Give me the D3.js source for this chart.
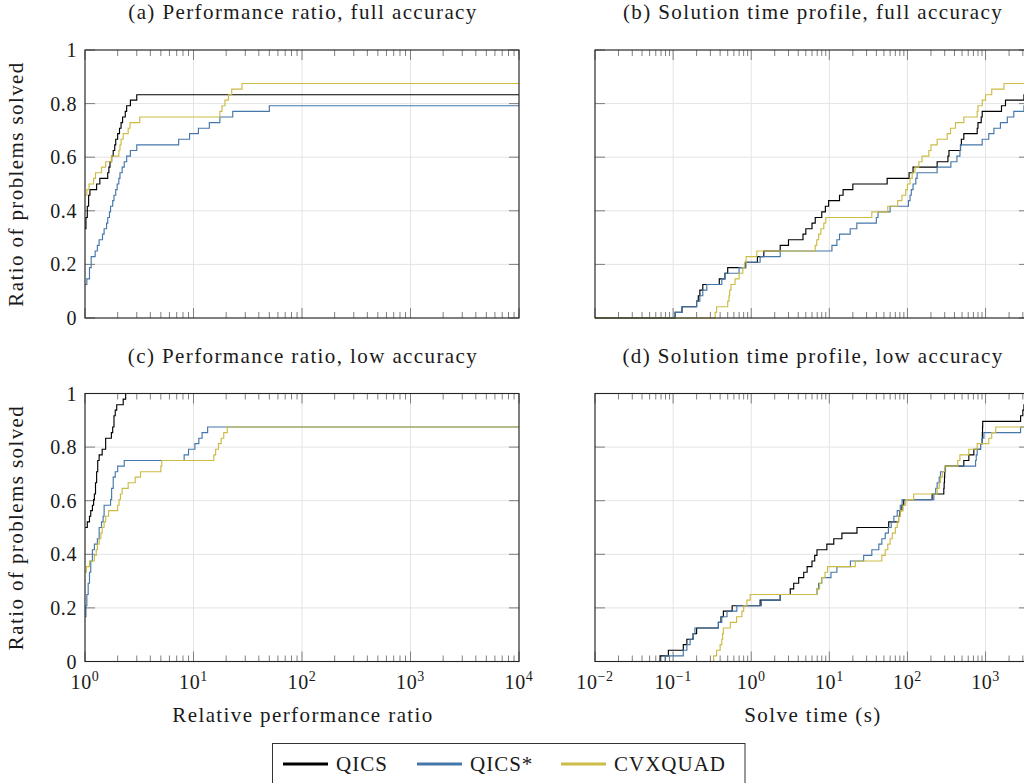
<html>
<head>
<meta charset="utf-8">
<script src="https://cdn.jsdelivr.net/npm/d3@7"></script>
<style>
body { margin: 0; background: #fff; }
text { font-family: "Liberation Serif", serif; fill: #1a1a1a; }
.big { font-size: 21px; letter-spacing: 1.4px; }
.tick { font-size: 20px; letter-spacing: 0.6px; }
.leg { font-size: 21px; letter-spacing: 1px; }
</style>
</head>
<body>
<svg id="chart" width="1024" height="783"></svg>
<script>
// solvers and colours
var solvers = ["QICS", "QICS*", "CVXQUAD"];
var solverColors = ["#000000", "#4477AA", "#CCBB44"];

var panelTitles = [
    "(a) Performance ratio, full accuracy",
    "(b) Solution time profile, full accuracy",
    "(c) Performance ratio, low accuracy",
    "(d) Solution time profile, low accuracy"
];
var yTicks = [0, 0.2, 0.4, 0.6, 0.8, 1];
var yTickLabels = ["0", "0.2", "0.4", "0.6", "0.8", "1"];
var ratioTicks = [1, 10, 100, 1000, 10000];
var timeTicks = [0.01, 0.1, 1, 10, 100, 1000];
var ratioDomain = [1, 10000];
var timeDomain = [0.01, 3600];

// [x, fraction solved] - step starts at x
var perfFullQICS = [[1,0.333],[1.02,0.375],[1.05,0.417],[1.08,0.458],[1.11,0.479],[1.28,0.5],[1.37,0.521],[1.62,0.542],[1.66,0.563],[1.7,0.583],[1.76,0.604],[1.82,0.625],[1.88,0.646],[1.92,0.667],[2.0,0.688],[2.08,0.708],[2.15,0.729],[2.22,0.75],[2.35,0.771],[2.42,0.792],[2.62,0.813],[3.0,0.833]];
var perfFullQICSstar = [[1,0.125],[1.04,0.146],[1.1,0.188],[1.14,0.229],[1.24,0.25],[1.3,0.271],[1.35,0.292],[1.45,0.313],[1.5,0.333],[1.58,0.354],[1.62,0.375],[1.68,0.396],[1.72,0.417],[1.8,0.438],[1.85,0.458],[1.92,0.479],[1.98,0.5],[2.05,0.521],[2.1,0.542],[2.2,0.563],[2.3,0.583],[2.42,0.604],[2.62,0.625],[3.0,0.646],[7.3,0.667],[9.2,0.688],[11.1,0.708],[14,0.729],[17.5,0.75],[23,0.771],[50,0.792]];
var perfFullCVXQUAD = [[1,0.458],[1.04,0.479],[1.09,0.5],[1.2,0.521],[1.25,0.542],[1.42,0.563],[1.55,0.583],[1.75,0.604],[2.05,0.625],[2.1,0.646],[2.15,0.667],[2.25,0.688],[2.5,0.708],[2.6,0.729],[3.2,0.75],[17.5,0.771],[18.3,0.792],[19.5,0.813],[21,0.833],[22.5,0.854],[28,0.875]];

var timeFullQICS = [[0.01,0],[0.106,0.021],[0.13,0.042],[0.2,0.063],[0.21,0.083],[0.22,0.104],[0.24,0.125],[0.39,0.146],[0.46,0.167],[0.5,0.188],[0.85,0.208],[1.2,0.229],[1.45,0.25],[2.35,0.271],[3.0,0.292],[4.6,0.313],[5.0,0.333],[6.0,0.354],[6.6,0.375],[8.0,0.396],[8.9,0.417],[9.8,0.438],[13.5,0.458],[15,0.479],[20,0.5],[55,0.521],[105,0.542],[118,0.563],[240,0.583],[330,0.604],[340,0.625],[478,0.646],[490,0.667],[527,0.688],[782,0.708],[800,0.729],[880,0.75],[906,0.771],[1600,0.792],[1800,0.813],[3100,0.833]];
var timeFullQICSstar = [[0.01,0],[0.106,0.021],[0.13,0.042],[0.2,0.063],[0.22,0.083],[0.24,0.104],[0.27,0.125],[0.42,0.146],[0.46,0.167],[0.7,0.188],[0.84,0.208],[1.3,0.229],[2.35,0.25],[10.8,0.271],[12.5,0.292],[13.5,0.313],[18.5,0.333],[22.5,0.354],[40,0.375],[42,0.396],[60,0.417],[103,0.438],[108,0.458],[112,0.479],[118,0.5],[128,0.521],[133,0.542],[240,0.563],[360,0.583],[430,0.604],[470,0.625],[478,0.646],[906,0.667],[1100,0.688],[1280,0.708],[1550,0.729],[1900,0.75],[2300,0.771],[3100,0.792]];
var timeFullCVXQUAD = [[0.01,0],[0.345,0.021],[0.36,0.042],[0.5,0.063],[0.52,0.083],[0.53,0.104],[0.55,0.125],[0.62,0.146],[0.7,0.167],[0.78,0.188],[0.82,0.208],[0.86,0.229],[1.18,0.25],[6.6,0.271],[6.9,0.292],[7.3,0.313],[7.8,0.333],[8.5,0.354],[9.0,0.375],[35,0.396],[56,0.417],[75,0.438],[85,0.458],[95,0.479],[100,0.5],[108,0.521],[115,0.542],[125,0.563],[140,0.583],[154,0.604],[188,0.625],[200,0.646],[240,0.667],[323,0.688],[356,0.708],[412,0.729],[527,0.75],[782,0.771],[800,0.792],[906,0.813],[1000,0.833],[1200,0.854],[1720,0.875]];

var perfLowQICS = [[1,0.5],[1.05,0.521],[1.1,0.542],[1.13,0.563],[1.17,0.583],[1.2,0.604],[1.22,0.625],[1.25,0.667],[1.28,0.708],[1.31,0.75],[1.35,0.771],[1.44,0.792],[1.55,0.833],[1.75,0.854],[1.8,0.875],[1.85,0.917],[1.9,0.938],[1.96,0.958],[2.25,0.979],[2.37,1.0]];
var perfLowQICSstar = [[1,0.167],[1.02,0.208],[1.04,0.25],[1.07,0.292],[1.1,0.333],[1.13,0.375],[1.17,0.417],[1.22,0.438],[1.3,0.458],[1.35,0.5],[1.42,0.521],[1.47,0.542],[1.5,0.583],[1.72,0.604],[1.76,0.646],[1.82,0.688],[1.9,0.708],[2.0,0.729],[2.3,0.75],[8.2,0.771],[9.0,0.792],[10.3,0.813],[11.2,0.833],[12,0.854],[13.5,0.875]];
var perfLowCVXQUAD = [[1,0.333],[1.03,0.354],[1.1,0.375],[1.22,0.396],[1.27,0.417],[1.3,0.438],[1.35,0.458],[1.4,0.479],[1.44,0.5],[1.5,0.521],[1.55,0.542],[1.65,0.563],[2.0,0.583],[2.06,0.604],[2.12,0.625],[2.2,0.646],[2.5,0.667],[2.9,0.688],[3.25,0.708],[5.0,0.729],[5.1,0.75],[15.4,0.771],[16,0.792],[17,0.813],[18,0.833],[19,0.854],[20.5,0.875]];

var timeLowQICS = [[0.01,0],[0.068,0.021],[0.087,0.042],[0.135,0.063],[0.15,0.083],[0.18,0.104],[0.2,0.125],[0.38,0.146],[0.41,0.167],[0.44,0.188],[0.57,0.208],[1.3,0.229],[2.35,0.25],[3.16,0.271],[3.5,0.292],[4.05,0.313],[4.7,0.333],[5.2,0.354],[6.0,0.375],[6.5,0.396],[6.95,0.417],[9.3,0.438],[11.4,0.458],[14.5,0.479],[22.6,0.5],[57.6,0.521],[77,0.542],[80,0.563],[85,0.583],[89.7,0.604],[207,0.625],[292,0.646],[295,0.667],[298,0.688],[300,0.708],[305,0.729],[527,0.75],[611,0.771],[708,0.792],[863,0.813],[906,0.833],[910,0.854],[915,0.875],[920,0.896],[2810,0.917],[3000,0.938],[3100,0.958],[3400,0.979]];
var timeLowQICSstar = [[0.01,0],[0.079,0.021],[0.135,0.042],[0.15,0.063],[0.165,0.083],[0.182,0.104],[0.19,0.125],[0.38,0.146],[0.42,0.167],[0.49,0.188],[0.655,0.208],[1.35,0.229],[2.35,0.25],[6.95,0.271],[7.3,0.292],[8.0,0.313],[10.5,0.333],[12.5,0.354],[18.6,0.375],[27.5,0.396],[35,0.417],[43,0.438],[47,0.458],[52,0.479],[57,0.5],[62,0.521],[67,0.542],[74,0.563],[81,0.583],[85.5,0.604],[218,0.625],[230,0.646],[240,0.667],[255,0.688],[265,0.708],[307,0.729],[745,0.75],[760,0.771],[782,0.792],[863,0.813],[906,0.833],[952,0.854],[2810,0.875]];
var timeLowCVXQUAD = [[0.01,0],[0.33,0.021],[0.36,0.042],[0.4,0.063],[0.42,0.083],[0.43,0.104],[0.44,0.125],[0.54,0.146],[0.65,0.167],[0.76,0.188],[0.8,0.208],[0.88,0.229],[0.97,0.25],[6.95,0.271],[7.5,0.292],[8.0,0.313],[8.8,0.333],[9.5,0.354],[21.5,0.375],[47,0.396],[52,0.417],[56,0.438],[60,0.458],[64,0.479],[70,0.5],[74,0.521],[77,0.542],[81,0.563],[88,0.583],[95,0.604],[120,0.625],[240,0.646],[255,0.667],[265,0.688],[280,0.708],[300,0.729],[440,0.75],[470,0.771],[611,0.792],[782,0.813],[1100,0.833],[1200,0.854],[1350,0.875]];

var svg = d3.select("#chart");

var panels = [
    {title: panelTitles[0], x0: 85,  y0: 50,    domain: ratioDomain, ticks: ratioTicks, series: [perfFullQICS, perfFullQICSstar, perfFullCVXQUAD], yLabels: true,  xLabels: false},
    {title: panelTitles[1], x0: 595, y0: 50,    domain: timeDomain,  ticks: timeTicks,  series: [timeFullQICS, timeFullQICSstar, timeFullCVXQUAD], yLabels: false, xLabels: false},
    {title: panelTitles[2], x0: 85,  y0: 393.5, domain: ratioDomain, ticks: ratioTicks, series: [perfLowQICS, perfLowQICSstar, perfLowCVXQUAD], yLabels: true,  xLabels: true, xTitle: "Relative performance ratio"},
    {title: panelTitles[3], x0: 595, y0: 393.5, domain: timeDomain,  ticks: timeTicks,  series: [timeLowQICS, timeLowQICSstar, timeLowCVXQUAD], yLabels: false, xLabels: true, xTitle: "Solve time (s)"}
];
var W = 434, H = 268;

panels.forEach(function (p, pi) {
    var g = svg.append("g").attr("transform", "translate(" + p.x0 + "," + p.y0 + ")");
    var x = d3.scaleLog().domain(p.domain).range([0, W]);
    var y = d3.scaleLinear().domain([0, 1]).range([H, 0]);

    // title
    g.append("text").attr("class", "big").attr("x", W / 2 + 1).attr("y", -31)
        .attr("text-anchor", "middle").text(p.title);

    // grid
    g.selectAll(".gy").data(yTicks).enter().append("line")
        .attr("x1", 0).attr("x2", W).attr("y1", d => y(d)).attr("y2", d => y(d))
        .attr("stroke", "#e4e4e4").attr("stroke-width", 1);
    g.selectAll(".gx").data(p.ticks).enter().append("line")
        .attr("x1", d => x(d)).attr("x2", d => x(d)).attr("y1", 0).attr("y2", H)
        .attr("stroke", "#e4e4e4").attr("stroke-width", 1);

    // minor log ticks, top and bottom, inward
    var minors = [];
    var lo = Math.floor(Math.log10(p.domain[0])), hi = Math.ceil(Math.log10(p.domain[1]));
    for (var e = lo; e < hi; e++) {
        for (var m = 2; m <= 9; m++) {
            var v = m * Math.pow(10, e);
            if (v > p.domain[0] && v < p.domain[1]) minors.push(v);
        }
    }
    var tickCol = "#7f7f7f";
    [[H, -6], [0, 6]].forEach(function (s) {
        g.selectAll(null).data(minors).enter().append("line")
            .attr("x1", d => x(d)).attr("x2", d => x(d))
            .attr("y1", s[0]).attr("y2", s[0] + s[1])
            .attr("stroke", tickCol).attr("stroke-width", 1);
    });
    [[H, -10], [0, 10]].forEach(function (s) {
        g.selectAll(null).data(p.ticks).enter().append("line")
            .attr("x1", d => x(d)).attr("x2", d => x(d))
            .attr("y1", s[0]).attr("y2", s[0] + s[1])
            .attr("stroke", tickCol).attr("stroke-width", 1);
    });
    [[0, 10], [W, -10]].forEach(function (s) {
        g.selectAll(null).data(yTicks).enter().append("line")
            .attr("x1", s[0]).attr("x2", s[0] + s[1])
            .attr("y1", d => y(d)).attr("y2", d => y(d))
            .attr("stroke", tickCol).attr("stroke-width", 1);
    });

    // step curves
    var clipId = "clip" + pi;
    g.append("clipPath").attr("id", clipId).append("rect")
        .attr("x", 0).attr("y", -1).attr("width", W).attr("height", H + 2);
    var line = d3.line().x(d => x(d[0])).y(d => y(d[1])).curve(d3.curveStepAfter);
    p.series.forEach(function (s, si) {
        var pts = s.concat([[p.domain[1], s[s.length - 1][1]]]);
        g.append("path").datum(pts)
            .attr("clip-path", "url(#" + clipId + ")")
            .attr("d", line).attr("fill", "none")
            .attr("stroke", solverColors[si]).attr("stroke-width", 1.15);
    });

    // frame
    g.append("rect").attr("x", 0).attr("y", 0).attr("width", W).attr("height", H)
        .attr("fill", "none").attr("stroke", "#222").attr("stroke-width", 1.1);

    if (p.yLabels) {
        g.selectAll(".yl").data(yTicks).enter().append("text")
            .attr("class", "tick")
            .attr("x", -8).attr("y", d => y(d) + 7)
            .attr("text-anchor", "end")
            .text((d, i) => yTickLabels[i]);
        g.append("text").attr("class", "big")
            .attr("transform", "translate(" + (23 - p.x0) + "," + (H / 2) + ") rotate(-90)")
            .attr("text-anchor", "middle")
            .text("Ratio of problems solved");
    }
    if (p.xLabels) {
        var tl = g.selectAll(".xl").data(p.ticks).enter().append("text")
            .attr("class", "tick")
            .attr("x", d => x(d)).attr("y", H + 27)
            .attr("text-anchor", "middle");
        tl.append("tspan").text("10");
        tl.append("tspan").attr("dy", -8).style("font-size", "14px")
            .text(d => { var e = Math.round(Math.log10(d)); return e < 0 ? "\u2212" + (-e) : String(e); });
        g.append("text").attr("class", "big").attr("x", W / 2 + 1).attr("y", H + 60)
            .attr("text-anchor", "middle").text(p.xTitle);
    }
});

// legend
var legend = svg.append("g");
legend.append("rect").attr("x", 272.5).attr("y", 743.5).attr("width", 472.5).attr("height", 60)
    .attr("fill", "#fff").attr("stroke", "#333").attr("stroke-width", 1);
var legendX = [283, 417, 561];
solvers.forEach(function (name, i) {
    legend.append("line").attr("x1", legendX[i]).attr("x2", legendX[i] + 45)
        .attr("y1", 764).attr("y2", 764)
        .attr("stroke", solverColors[i]).attr("stroke-width", 3.2);
    legend.append("text").attr("class", "leg").attr("x", legendX[i] + 53).attr("y", 771)
        .text(name);
});
</script>
</body>
</html>
